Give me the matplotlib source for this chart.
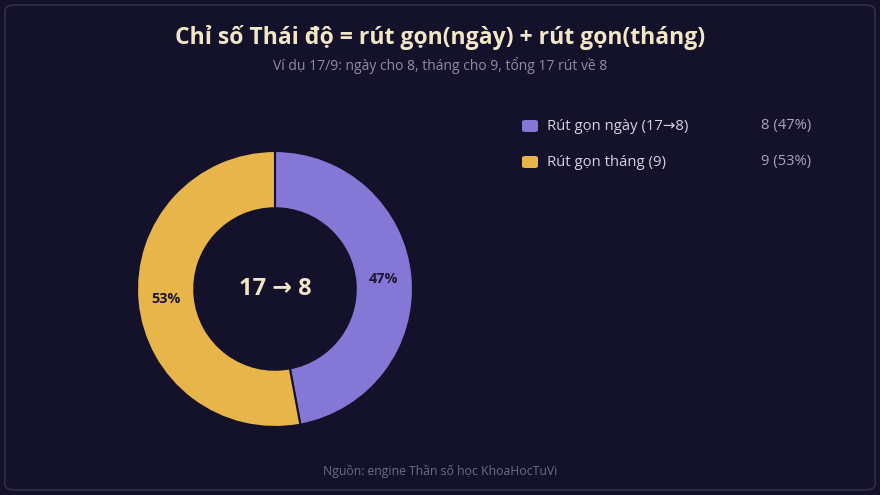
import matplotlib.pyplot as plt
from matplotlib.patches import FancyBboxPatch

plt.rcParams['font.family'] = ['Open Sans', 'DejaVu Sans']

labels = ['Rút gọn ngày (17→8)', 'Rút gọn tháng (9)']
values = [8, 9]
colors = ['#8577d6', '#e8b54a']
center_text = '17 → 8'

bg = '#14112a'
total = sum(values)
pcts = [round(v * 100 / total) for v in values]

fig = plt.figure(figsize=(8.8, 4.95), dpi=100)
fig.patch.set_facecolor(bg)

# rounded border
fig.patches.append(FancyBboxPatch((5 / 880, 5 / 495), 870 / 880, 485 / 495,
                                  boxstyle='round,pad=0,rounding_size=0.012',
                                  transform=fig.transFigure, facecolor='none',
                                  edgecolor='#322e4c', linewidth=1.2))

fig.text(0.5, 1 - 38 / 495, 'Chỉ số Thái độ = rút gọn(ngày) + rút gọn(tháng)',
         ha='center', va='center', fontsize=16.6, fontweight='bold', color='#f1e6c6')
fig.text(0.5, 1 - 65 / 495, 'Ví dụ 17/9: ngày cho 8, tháng cho 9, tổng 17 rút về 8',
         ha='center', va='center', fontsize=10, color='#8f8ca3')
fig.text(0.5, 1 - 471 / 495, 'Nguồn: engine Thần số học KhoaHocTuVi',
         ha='center', va='center', fontsize=8.8, color='#6f6c85')

ax = fig.add_axes([(275 - 138) / 880, (495 - 289 - 138) / 495, 276 / 880, 276 / 495])
ax.set_facecolor(bg)
wedges, texts, autotexts = ax.pie(values, colors=colors, startangle=90, counterclock=False,
                                  radius=1, autopct='%1.0f%%', pctdistance=0.79,
                                  wedgeprops=dict(width=0.415, edgecolor=bg, linewidth=1.5),
                                  textprops=dict(color='#1c1733', fontsize=10.4, fontweight='bold'))
ax.set_xlim(-1.0, 1.0)
ax.set_ylim(-1.0, 1.0)
ax.axis('off')
ax.text(0, 0, center_text, ha='center', va='center', fontsize=17, fontweight='bold',
        color='#f1e6c6')

# legend
rows_y = [126, 162]
for lab, v, p, c, y in zip(labels, values, pcts, colors, rows_y):
    fig.patches.append(FancyBboxPatch((522 / 880, 1 - (y + 6) / 495), 16 / 880, 12 / 495,
                                      boxstyle='round,pad=0,rounding_size=0.004',
                                      transform=fig.transFigure, facecolor=c, edgecolor='none'))
    fig.text(547 / 880, 1 - y / 495, lab, ha='left', va='center', fontsize=10.7, color='#d6d3e0')
    fig.text(811 / 880, 1 - y / 495, f'{v} ({p}%)', ha='right', va='center', fontsize=10.6,
             color='#a9a6b8')

fig.savefig('out.png', dpi=100, facecolor=bg)
